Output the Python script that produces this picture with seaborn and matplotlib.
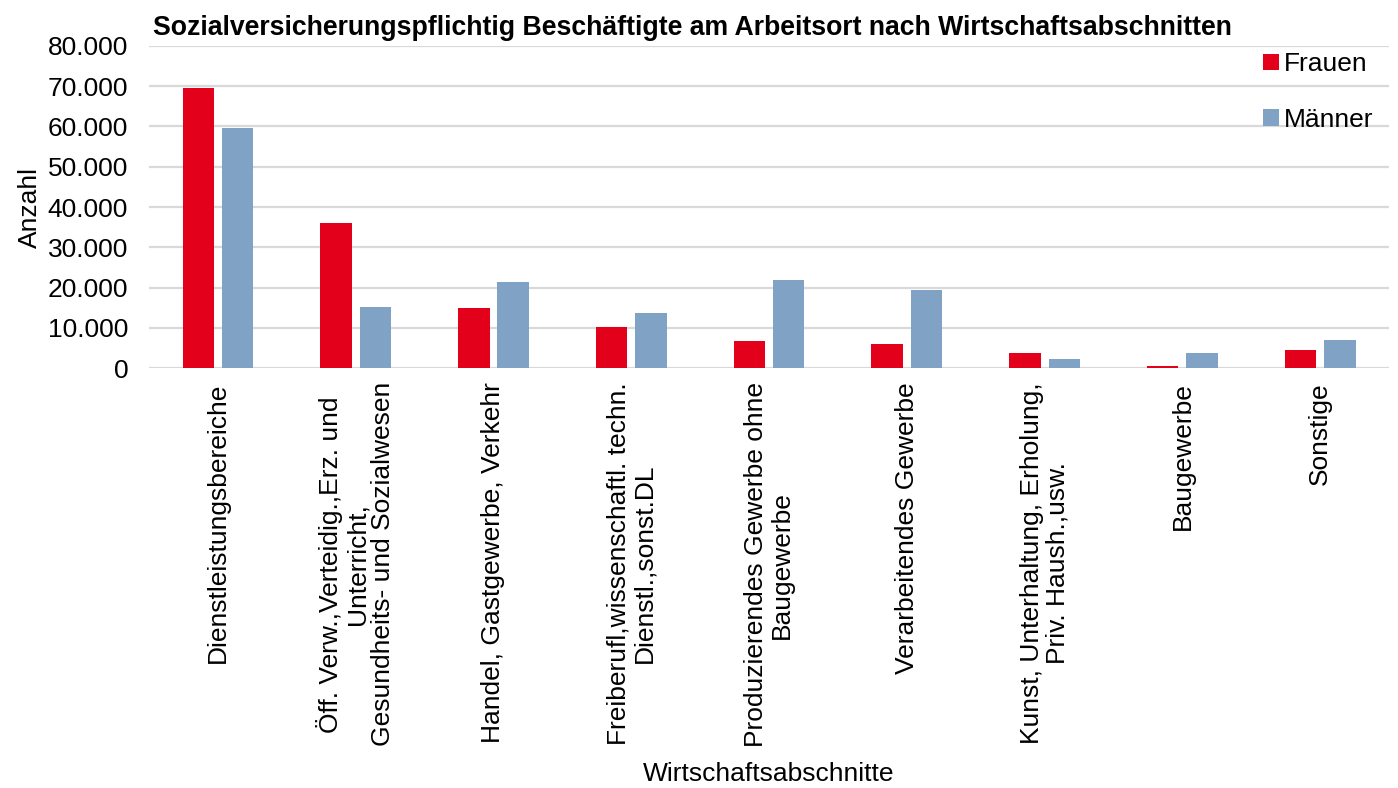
import pandas as pd
import matplotlib.pyplot as plt
import matplotlib.ticker as mticker
import seaborn as sns

# --- DATEN ---
kategorien = [
    "Dienstleistungsbereiche",
    "Öff. Verw.,Verteidig.,Erz. und\nUnterricht,\nGesundheits- und Sozialwesen",
    "Handel, Gastgewerbe, Verkehr",
    "Freiberufl,wissenschaftl. techn.\nDienstl.,sonst.DL",
    "Produzierendes Gewerbe ohne\nBaugewerbe",
    "Verarbeitendes Gewerbe",
    "Kunst, Unterhaltung, Erholung,\nPriv. Haush.,usw.",
    "Baugewerbe",
    "Sonstige",
]
frauen = [69500, 36000, 14900, 10200, 6700, 6000, 3800, 600, 4600]
maenner = [59600, 15100, 21300, 13600, 21800, 19500, 2400, 3800, 7000]
y_ticks = [0, 10000, 20000, 30000, 40000, 50000, 60000, 70000, 80000]

FARBEN = {"Frauen": "#E2001A", "Männer": "#80A3C5"}


def main():
    df = pd.DataFrame({"Kategorie": kategorien * 2,
                       "Anzahl": frauen + maenner,
                       "Geschlecht": ["Frauen"] * len(frauen) + ["Männer"] * len(maenner)})

    sns.set_theme(style="white")
    plt.rcParams["font.family"] = ["Liberation Sans", "DejaVu Sans"]
    plt.rcParams["text.color"] = "black"
    plt.rcParams["axes.labelcolor"] = "black"
    plt.rcParams["xtick.color"] = "black"
    plt.rcParams["ytick.color"] = "black"

    fig = plt.figure(figsize=(13.98, 7.88), dpi=100)
    ax = fig.add_axes([0.1066, 0.5326, 0.887, 0.4094])

    sns.barplot(data=df, x="Kategorie", y="Anzahl", hue="Geschlecht",
                palette=FARBEN, saturation=1, width=0.57, gap=0.2, linewidth=0, ax=ax)

    ax.set_ylim(0, 80000)
    ax.set_xlim(-0.5, len(kategorien) - 0.5)
    ax.set_yticks(y_ticks)
    ax.yaxis.set_major_formatter(mticker.FuncFormatter(lambda v, p: f"{int(v):,}".replace(",", ".")))
    ax.grid(axis="y", color="#d9d9d9", linewidth=1.6)
    ax.set_axisbelow(True)
    for s in ax.spines.values():
        s.set_visible(False)
    ax.tick_params(axis="y", labelsize=19, pad=15, length=0)
    ax.tick_params(axis="x", length=0, pad=10)

    ax.set_xticks(range(len(kategorien)))
    ax.set_xticklabels(kategorien, rotation=90, fontsize=19, va="top", ha="center",
                       multialignment="center", linespacing=1.1)

    ax.set_ylabel("Anzahl", fontsize=19, labelpad=4)
    ax.set_xlabel("")
    fig.text(0.55, 0.002, "Wirtschaftsabschnitte", fontsize=19, ha="center", va="bottom")

    ax.set_title("Sozialversicherungspflichtig Beschäftigte am Arbeitsort nach Wirtschaftsabschnitten",
                 fontsize=19.2, fontweight="bold", loc="left", x=0.003, pad=8)

    handles, labels = ax.get_legend_handles_labels()
    ax.legend(handles, labels, loc="upper left", bbox_to_anchor=(0.89, 1.012),
              frameon=False, fontsize=19, handlelength=0.6, handleheight=0.6,
              handletextpad=0.2, labelspacing=1.2, borderaxespad=0)

    fig.savefig("out.png", dpi=100)


if __name__ == "__main__":
    main()
